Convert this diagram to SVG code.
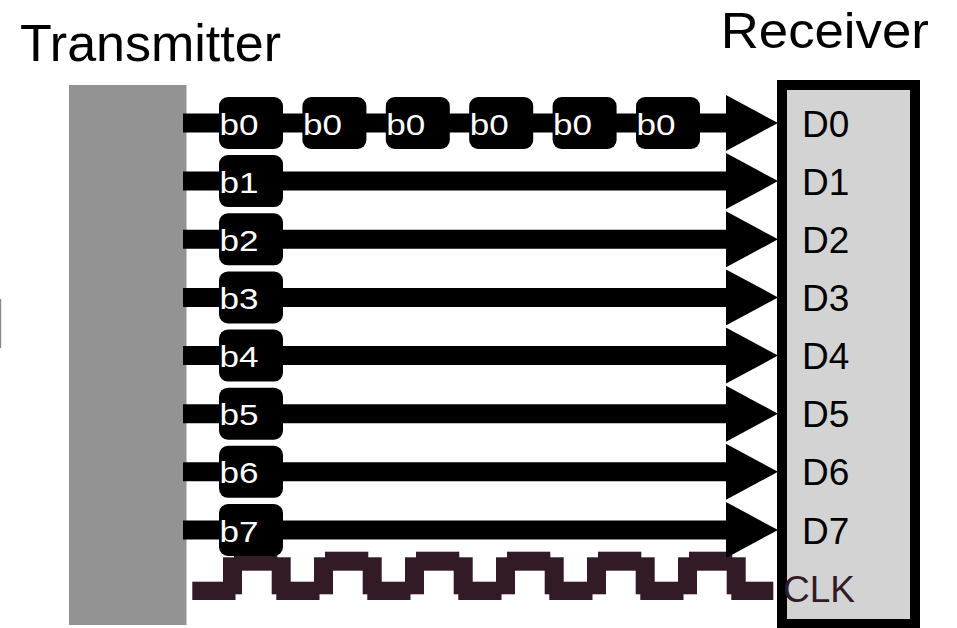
<svg xmlns="http://www.w3.org/2000/svg" width="957" height="628" viewBox="0 0 957 628">
<style>
.title{font-family:"Liberation Sans",Arial,sans-serif;fill:#000}
.bl{font-family:"Liberation Sans",Arial,sans-serif;font-size:30px;fill:#fff}
.dl{font-family:"Liberation Sans",Arial,sans-serif;font-size:37px;fill:#000}
.box{fill:#000}
.wire{stroke:#000;stroke-width:19;fill:none}
.clk{fill:#331a27}
</style>
<defs>
<marker id="arr" markerUnits="userSpaceOnUse" markerWidth="52" markerHeight="56" refX="0" refY="28" orient="auto" viewBox="0 0 52 56">
<path d="M0,0 L52,28 L0,56 Z" fill="#000"/>
</marker>
</defs>
<rect width="957" height="628" fill="#fff"/>
<rect x="0" y="299" width="1.2" height="49" fill="#8a8a8a"/>

<g id="transmitter">
<rect x="69" y="85" width="117.5" height="540" fill="#939393"/>
<text class="title" x="20" y="61" font-size="52">Transmitter</text>
</g>

<g id="clock">
<rect class="clk" x="192.3" y="581.7" width="43.2" height="18.3"/>
<rect class="clk" x="223" y="557.3" width="19" height="37"/><rect class="clk" x="234" y="551.7" width="43.3" height="19"/><rect class="clk" x="271.7" y="557.3" width="19" height="37"/><rect class="clk" x="276.3" y="581.7" width="43.2" height="18.3"/>
<rect class="clk" x="314" y="557.3" width="19" height="37"/><rect class="clk" x="325" y="551.7" width="43.3" height="19"/><rect class="clk" x="362.7" y="557.3" width="19" height="37"/><rect class="clk" x="367.3" y="581.7" width="43.2" height="18.3"/>
<rect class="clk" x="405" y="557.3" width="19" height="37"/><rect class="clk" x="416" y="551.7" width="43.3" height="19"/><rect class="clk" x="453.7" y="557.3" width="19" height="37"/><rect class="clk" x="458.3" y="581.7" width="43.2" height="18.3"/>
<rect class="clk" x="496" y="557.3" width="19" height="37"/><rect class="clk" x="507" y="551.7" width="43.3" height="19"/><rect class="clk" x="544.7" y="557.3" width="19" height="37"/><rect class="clk" x="549.3" y="581.7" width="43.2" height="18.3"/>
<rect class="clk" x="587" y="557.3" width="19" height="37"/><rect class="clk" x="598" y="551.7" width="43.3" height="19"/><rect class="clk" x="635.7" y="557.3" width="19" height="37"/><rect class="clk" x="640.3" y="581.7" width="43.2" height="18.3"/>
<rect class="clk" x="678" y="557.3" width="19" height="37"/><rect class="clk" x="689" y="551.7" width="43.3" height="19"/><rect class="clk" x="726.7" y="557.3" width="19" height="37"/><rect class="clk" x="731.3" y="581.7" width="42" height="18.3"/>
</g>

<g id="connectors">
<line class="wire" x1="183" y1="123" x2="726" y2="123" marker-end="url(#arr)"/>
<line class="wire" x1="183" y1="181.1" x2="726" y2="181.1" marker-end="url(#arr)"/>
<line class="wire" x1="183" y1="239.3" x2="726" y2="239.3" marker-end="url(#arr)"/>
<line class="wire" x1="183" y1="297.4" x2="726" y2="297.4" marker-end="url(#arr)"/>
<line class="wire" x1="183" y1="355.6" x2="726" y2="355.6" marker-end="url(#arr)"/>
<line class="wire" x1="183" y1="413.7" x2="726" y2="413.7" marker-end="url(#arr)"/>
<line class="wire" x1="183" y1="471.8" x2="726" y2="471.8" marker-end="url(#arr)"/>
<line class="wire" x1="183" y1="530" x2="726" y2="530" marker-end="url(#arr)"/>
</g>

<g id="bits">
<rect class="box" x="219" y="97" width="64" height="52" rx="9"/><text class="bl" x="219.5" y="134.5" textLength="39" lengthAdjust="spacingAndGlyphs">b0</text>
<rect class="box" x="302.4" y="97" width="64" height="52" rx="9"/><text class="bl" x="302.9" y="134.5" textLength="39" lengthAdjust="spacingAndGlyphs">b0</text>
<rect class="box" x="385.8" y="97" width="64" height="52" rx="9"/><text class="bl" x="386.3" y="134.5" textLength="39" lengthAdjust="spacingAndGlyphs">b0</text>
<rect class="box" x="469.2" y="97" width="64" height="52" rx="9"/><text class="bl" x="469.7" y="134.5" textLength="39" lengthAdjust="spacingAndGlyphs">b0</text>
<rect class="box" x="552.6" y="97" width="64" height="52" rx="9"/><text class="bl" x="553.1" y="134.5" textLength="39" lengthAdjust="spacingAndGlyphs">b0</text>
<rect class="box" x="636" y="97" width="64" height="52" rx="9"/><text class="bl" x="636.5" y="134.5" textLength="39" lengthAdjust="spacingAndGlyphs">b0</text>
<rect class="box" x="219" y="155.1" width="64" height="52" rx="9"/><text class="bl" x="219.5" y="192.6" textLength="39" lengthAdjust="spacingAndGlyphs">b1</text>
<rect class="box" x="219" y="213.3" width="64" height="52" rx="9"/><text class="bl" x="219.5" y="250.8" textLength="39" lengthAdjust="spacingAndGlyphs">b2</text>
<rect class="box" x="219" y="271.4" width="64" height="52" rx="9"/><text class="bl" x="219.5" y="308.9" textLength="39" lengthAdjust="spacingAndGlyphs">b3</text>
<rect class="box" x="219" y="329.6" width="64" height="52" rx="9"/><text class="bl" x="219.5" y="367.1" textLength="39" lengthAdjust="spacingAndGlyphs">b4</text>
<rect class="box" x="219" y="387.7" width="64" height="52" rx="9"/><text class="bl" x="219.5" y="425.2" textLength="39" lengthAdjust="spacingAndGlyphs">b5</text>
<rect class="box" x="219" y="445.8" width="64" height="52" rx="9"/><text class="bl" x="219.5" y="483.3" textLength="39" lengthAdjust="spacingAndGlyphs">b6</text>
<rect class="box" x="219" y="504" width="64" height="52" rx="9"/><text class="bl" x="219.5" y="541.5" textLength="39" lengthAdjust="spacingAndGlyphs">b7</text>
</g>

<g id="receiver">
<rect x="782" y="85" width="133" height="539" fill="#d3d3d3" stroke="#000" stroke-width="10"/>
<text class="title" x="720.8" y="47.7" font-size="50" textLength="208" lengthAdjust="spacingAndGlyphs">Receiver</text>
<text class="dl" x="802" y="136.5">D0</text>
<text class="dl" x="802" y="194.6">D1</text>
<text class="dl" x="802" y="252.8">D2</text>
<text class="dl" x="802" y="310.9">D3</text>
<text class="dl" x="802" y="369.1">D4</text>
<text class="dl" x="802" y="427.2">D5</text>
<text class="dl" x="802" y="485.3">D6</text>
<text class="dl" x="802" y="543.5">D7</text>
<text class="dl" x="783" y="601.7" fill="#331a27" style="fill:#331a27">CLK</text>
</g>
</svg>
